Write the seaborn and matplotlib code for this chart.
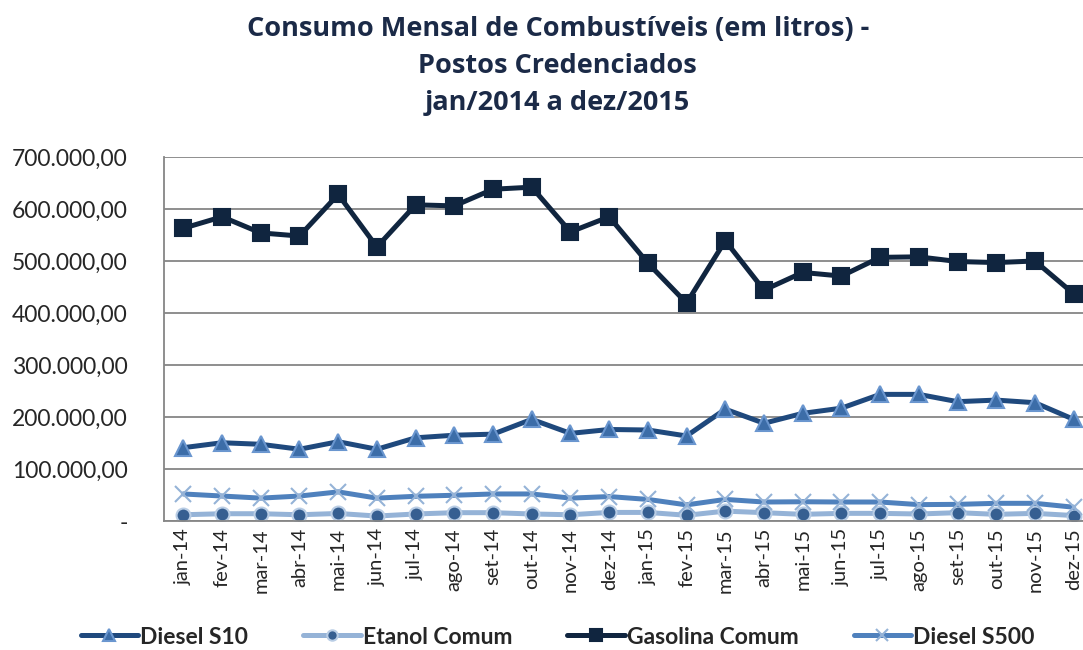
import matplotlib
matplotlib.use("Agg")
import matplotlib.pyplot as plt
import pandas as pd
import seaborn as sns

# Data (litros)
meses = ["jan-14", "fev-14", "mar-14", "abr-14", "mai-14", "jun-14",
         "jul-14", "ago-14", "set-14", "out-14", "nov-14", "dez-14",
         "jan-15", "fev-15", "mar-15", "abr-15", "mai-15", "jun-15",
         "jul-15", "ago-15", "set-15", "out-15", "nov-15", "dez-15"]

diesel_s10 = [141000, 150500, 147500, 138000, 152500, 138000,
              160000, 165000, 167000, 195500, 168500, 176000,
              175000, 163500, 215000, 188000, 207000, 217000,
              243500, 243500, 229500, 232500, 227500, 195500]

etanol_comum = [12000, 14000, 14000, 12000, 14500, 9500,
                13500, 16000, 16000, 13500, 12000, 16500,
                16500, 11000, 19000, 16000, 12800, 14700,
                14700, 13500, 16000, 12800, 14700, 10500]

gasolina_comum = [563000, 585000, 554000, 548000, 628000, 527000,
                  608000, 606000, 638000, 642000, 556000, 585000,
                  496000, 419000, 539000, 444000, 478000, 471000,
                  507000, 508000, 499000, 497000, 500000, 437000]

diesel_s500 = [52000, 48000, 44000, 48000, 56000, 44000,
               47500, 49500, 52000, 52000, 44000, 47000,
               41500, 31000, 41500, 36500, 37000, 36500,
               36500, 31500, 32000, 34000, 34000, 26500]

series = ["Diesel S10", "Etanol Comum", "Gasolina Comum", "Diesel S500"]
values = [diesel_s10, etanol_comum, gasolina_comum, diesel_s500]

df = pd.DataFrame({"pos": range(len(meses)), "mes": meses})
for name, vals in zip(series, values):
    df[name] = vals

sns.set_style("white")
plt.rcParams["font.family"] = ["Lato", "DejaVu Sans"]

# style per series: line colour, marker, marker face, marker edge, size
styles = {
    "Diesel S10": dict(color="#1F497D", marker="^", mfc="#3C6DA8", mec="#6A96CF", ms=12),
    "Etanol Comum": dict(color="#95B3D7", marker="o", mfc="#365F91", mec="#B9CDE5", ms=10),
    "Gasolina Comum": dict(color="#10253F", marker="s", mfc="#10253F", mec="#10253F", ms=11),
    "Diesel S500": dict(color="#4F81BD", marker="x", mfc="#95B3D7", mec="#95B3D7", ms=11),
}

fig = plt.figure(figsize=(10.83, 6.5), dpi=100)
ax = fig.add_axes([164 / 1083, 1 - 521 / 650, 929 / 1083, 364 / 650])

for name in ["Etanol Comum", "Diesel S500", "Diesel S10", "Gasolina Comum"]:
    st = styles[name]
    sns.lineplot(data=df, x="pos", y=name, ax=ax, color=st["color"], lw=3.6,
                 marker=st["marker"], markersize=st["ms"],
                 markerfacecolor=st["mfc"], markeredgecolor=st["mec"],
                 markeredgewidth=1.5, label=name, legend=False)

ax.set_xlim(-0.5, len(meses) - 0.5)
ax.set_ylim(0, 700000)
ax.set_xlabel("")
ax.set_ylabel("")

yticks = list(range(0, 700001, 100000))
ax.set_yticks(yticks)
ax.set_yticklabels(["-"] + [f"{v:,.2f}".replace(",", "X").replace(".", ",").replace("X", ".")
                            for v in yticks[1:]], fontsize=16.5)
ax.set_xticks(df["pos"])
ax.set_xticklabels(meses, rotation=90, fontsize=14.5)
ax.set_xticks([p + 0.5 for p in range(-1, len(meses))], minor=True)
ax.tick_params(axis="x", which="major", length=0, pad=5)
ax.tick_params(axis="x", which="minor", length=6, color="#868686", width=1.2)
ax.tick_params(axis="y", length=6, color="#868686", width=1.2, pad=20)

ax.grid(axis="y", color="#868686", lw=1.3)
ax.set_axisbelow(True)
for s in ["top", "right"]:
    ax.spines[s].set_visible(False)
for s in ["left", "bottom"]:
    ax.spines[s].set_color("#868686")
    ax.spines[s].set_linewidth(1.3)

fig.suptitle("Consumo Mensal de Combustíveis (em litros) -\nPostos Credenciados\njan/2014 a dez/2015",
             x=0.515, y=0.975, fontsize=19.5, fontweight="bold", color="#1B2A47",
             family=["Open Sans", "DejaVu Sans"], linespacing=1.55)

h, l = ax.get_legend_handles_labels()
order = [l.index(n) for n in series]
fig.legend([h[i] for i in order], [l[i] for i in order], loc="center",
           bbox_to_anchor=(0.515, 0.02), ncol=4, frameon=False,
           prop={"size": 16.5, "weight": "bold"}, handlelength=2.5,
           handletextpad=0.1, columnspacing=2.4, markerscale=0.75)

fig.savefig("out.png", dpi=100)
